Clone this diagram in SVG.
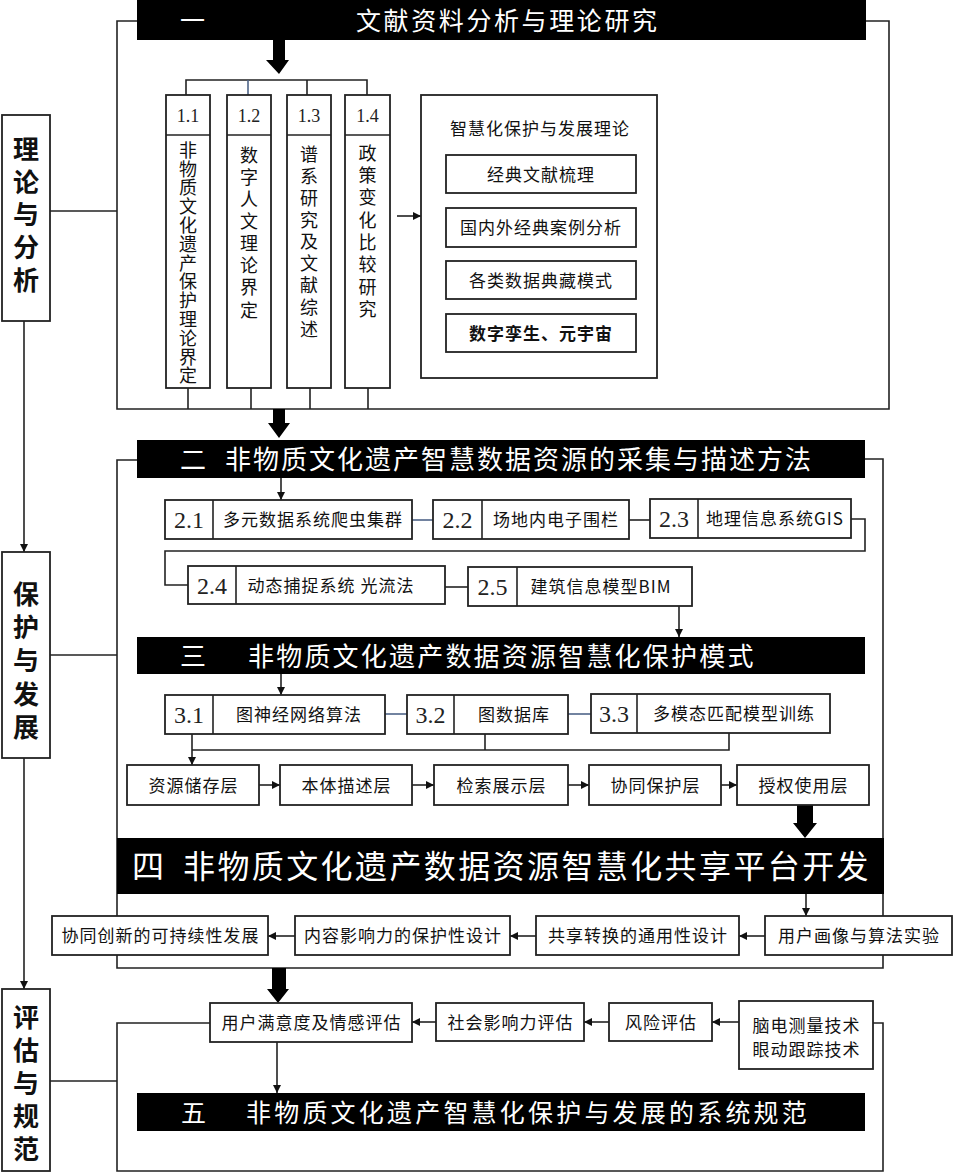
<svg xmlns="http://www.w3.org/2000/svg" width="954" height="1173" viewBox="0 0 954 1173">
<style>
.bx{fill:#fff;stroke:#222;stroke-width:1.8}
.ln{fill:none;stroke:#222;stroke-width:1.6}
.bl{fill:none;stroke:#4e6488;stroke-width:1.6}
.bar{fill:#000}
.t{font-family:"Noto Sans CJK SC","Noto Sans",sans-serif;font-size:17px;fill:#111;letter-spacing:1px}
.tc{text-anchor:middle}
.num{font-family:"Liberation Serif",serif;fill:#222;text-anchor:middle}
.n1{font-size:18px}
.n2{font-size:24px}
.v{font-family:"Noto Sans CJK SC",sans-serif;font-size:18px;fill:#111;writing-mode:vertical-rl}
.side{font-family:"Noto Sans CJK SC",sans-serif;font-size:26px;font-weight:bold;fill:#111;writing-mode:vertical-rl}
.ttl{font-family:"Noto Sans CJK SC",sans-serif;fill:#fff}
.big{fill:#000}
</style>
<defs>
<marker id="ah" viewBox="0 0 10 10" refX="10" refY="5" markerWidth="8" markerHeight="8" markerUnits="userSpaceOnUse" orient="auto"><path d="M0,0 L10,5 L0,10 z" fill="#111"/></marker>
</defs>

<g id="connectors">
<path class="ln" d="M137,21 H117 V409 H889 V21 H866"/>
<path class="ln" d="M137,460 H117 V968 H883 V459 H865"/>
<path class="ln" d="M210,1023 H117 V1171 H883 V1023 H873"/>
<path class="ln" d="M50,211 H117"/>
<path class="ln" d="M50,655 H117"/>
<path class="ln" d="M50,1081 H117"/>
<path class="ln" d="M24,321 V552" marker-end="url(#ah)"/>
<path class="ln" d="M24,758 V989" marker-end="url(#ah)"/>
<path class="ln" d="M186,95 V80 H367 V95 M307,80 V95"/>
<path class="bl" d="M248,80 V95"/>
<path class="ln" d="M188,388 V409 M251,388 V409 M310,388 V409 M368,388 V409"/>
<path class="ln" d="M397,216 H421" marker-end="url(#ah)"/>
<path class="ln" d="M540,193 V208" marker-end="url(#ah)"/>
<path class="ln" d="M540,247 V261" marker-end="url(#ah)"/>
<path class="ln" d="M540,299 V314" marker-end="url(#ah)"/>
<polygon class="big" points="273,40 285,40 285,60 289,60 279,74 266,60 273,60"/>
<polygon class="big" points="273,409 285,409 285,423 290,423 279,438 268,423 273,423"/>
<polygon class="big" points="797,805 813,805 813,823 817,823 805,838 793,823 797,823"/>
<polygon class="big" points="272,968 286,968 286,989 289,989 278,1003 267,989 272,989"/>
<path class="ln" d="M281,478 V500" marker-end="url(#ah)"/>
<path class="bl" d="M412,520 H433"/>
<path class="ln" d="M629,520 H650"/>
<path class="ln" d="M851,519 H865 V551 H165 V585 H188"/>
<path class="ln" d="M445,587 H468"/>
<path class="ln" d="M679,606 V637" marker-end="url(#ah)"/>
<path class="ln" d="M281,674 V695" marker-end="url(#ah)"/>
<path class="bl" d="M385,714 H407"/>
<path class="bl" d="M568,714 H591"/>
<path class="ln" d="M192,734 V765" marker-end="url(#ah)"/>
<path class="ln" d="M192,750 H729 V733 M485,734 V750"/>
<path class="ln" d="M259,785 H280" marker-end="url(#ah)"/>
<path class="ln" d="M412,785 H434" marker-end="url(#ah)"/>
<path class="ln" d="M568,785 H589" marker-end="url(#ah)"/>
<path class="ln" d="M721,785 H737" marker-end="url(#ah)"/>
<path class="ln" d="M806,894 V916" marker-end="url(#ah)"/>
<path class="ln" d="M765,936 H739" marker-end="url(#ah)"/>
<path class="ln" d="M536,936 H510" marker-end="url(#ah)"/>
<path class="ln" d="M295,936 H268" marker-end="url(#ah)"/>
<path class="ln" d="M739,1022 H712" marker-end="url(#ah)"/>
<path class="ln" d="M609,1022 H584" marker-end="url(#ah)"/>
<path class="ln" d="M436,1022 H412" marker-end="url(#ah)"/>
<path class="ln" d="M277,1042 V1093" marker-end="url(#ah)"/>
</g>

<g id="side1">
<rect class="bx" x="2" y="115" width="48" height="206"/>
<text class="side" x="26" y="136" letter-spacing="6.75">理论与分析</text>
</g>
<g id="side2">
<rect class="bx" x="2" y="552" width="48" height="206"/>
<text class="side" x="26" y="581" letter-spacing="7.25">保护与发展</text>
</g>
<g id="side3">
<rect class="bx" x="2" y="989" width="48" height="182"/>
<text class="side" x="26" y="1004" letter-spacing="7">评估与规范</text>
</g>

<g id="bar1">
<rect class="bar" x="137" y="0" width="729" height="40"/>
<text class="ttl" x="180" y="29.5" font-size="25">一</text>
<text class="ttl" x="356" y="29.5" font-size="25" letter-spacing="2.6">文献资料分析与理论研究</text>
</g>
<g id="bar2">
<rect class="bar" x="137" y="440" width="728" height="38"/>
<text class="ttl" x="180" y="469" font-size="26">二</text>
<text class="ttl" x="225" y="469" font-size="26" letter-spacing="2">非物质文化遗产智慧数据资源的采集与描述方法</text>
</g>
<g id="bar3">
<rect class="bar" x="137" y="637" width="728" height="37"/>
<text class="ttl" x="180" y="665.5" font-size="26">三</text>
<text class="ttl" x="248" y="665.5" font-size="26" letter-spacing="2.2">非物质文化遗产数据资源智慧化保护模式</text>
</g>
<g id="bar4">
<rect class="bar" x="117" y="838" width="767" height="56"/>
<text class="ttl" x="132" y="878" font-size="32">四</text>
<text class="ttl" x="183" y="878" font-size="32" letter-spacing="2.4">非物质文化遗产数据资源智慧化共享平台开发</text>
</g>
<g id="bar5">
<rect class="bar" x="137" y="1093" width="728" height="38"/>
<text class="ttl" x="181" y="1121.5" font-size="25">五</text>
<text class="ttl" x="246" y="1121.5" font-size="25" letter-spacing="3.2">非物质文化遗产智慧化保护与发展的系统规范</text>
</g>

<g id="n1-1">
<rect class="bx" x="166" y="95" width="44" height="293"/>
<line class="ln" x1="166" y1="135" x2="210" y2="135"/>
<text class="num n1" x="188" y="122">1.1</text>
<text class="v" x="188" y="141" letter-spacing="0.8">非物质文化遗产保护理论界定</text>
</g>
<g id="n1-2">
<rect class="bx" x="227" y="95" width="44" height="293"/>
<line class="ln" x1="227" y1="135" x2="271" y2="135"/>
<text class="num n1" x="249" y="122">1.2</text>
<text class="v" x="249" y="146" letter-spacing="4.1">数字人文理论界定</text>
</g>
<g id="n1-3">
<rect class="bx" x="287" y="95" width="44" height="293"/>
<line class="ln" x1="287" y1="135" x2="331" y2="135"/>
<text class="num n1" x="309" y="122">1.3</text>
<text class="v" x="309" y="145" letter-spacing="3.9">谱系研究及文献综述</text>
</g>
<g id="n1-4">
<rect class="bx" x="345" y="95" width="45" height="293"/>
<line class="ln" x1="345" y1="135" x2="390" y2="135"/>
<text class="num n1" x="367.5" y="122">1.4</text>
<text class="v" x="367.5" y="144" letter-spacing="4.3">政策变化比较研究</text>
</g>
<g id="n1-theory">
<rect class="bx" x="421" y="95" width="236" height="283"/>
<text class="t tc" x="540" y="135">智慧化保护与发展理论</text>
</g>
<g id="n1-a"><rect class="bx" x="446" y="155" width="190" height="38"/><text class="t tc" x="541" y="180.5">经典文献梳理</text></g>
<g id="n1-b"><rect class="bx" x="446" y="208" width="190" height="39"/><text class="t tc" x="541" y="234">国内外经典案例分析</text></g>
<g id="n1-c"><rect class="bx" x="446" y="261" width="190" height="38"/><text class="t tc" x="541" y="286.5">各类数据典藏模式</text></g>
<g id="n1-d"><rect class="bx" x="446" y="314" width="190" height="38"/><text class="t tc" x="541" y="339.5" font-weight="bold">数字孪生、元宇宙</text></g>

<g id="n2-1"><rect class="bx" x="165" y="500" width="247" height="39"/><line class="ln" x1="213" y1="500" x2="213" y2="539"/><text class="num n2" x="189" y="528">2.1</text><text class="t tc" x="313" y="526">多元数据系统爬虫集群</text></g>
<g id="n2-2"><rect class="bx" x="433" y="500" width="196" height="39"/><line class="ln" x1="482" y1="500" x2="482" y2="539"/><text class="num n2" x="457.5" y="528">2.2</text><text class="t tc" x="556" y="526">场地内电子围栏</text></g>
<g id="n2-3"><rect class="bx" x="650" y="499" width="201" height="39"/><line class="ln" x1="698" y1="499" x2="698" y2="538"/><text class="num n2" x="674" y="527">2.3</text><text class="t tc" x="775" y="525">地理信息系统GIS</text></g>
<g id="n2-4"><rect class="bx" x="188" y="566" width="257" height="38"/><line class="ln" x1="236" y1="566" x2="236" y2="604"/><text class="num n2" x="212" y="594">2.4</text><text class="t tc" x="331" y="592">动态捕捉系统 光流法</text></g>
<g id="n2-5"><rect class="bx" x="468" y="567" width="224" height="39"/><line class="ln" x1="517" y1="567" x2="517" y2="606"/><text class="num n2" x="492.5" y="595">2.5</text><text class="t tc" x="601" y="593">建筑信息模型BIM</text></g>

<g id="n3-1"><rect class="bx" x="165" y="695" width="220" height="39"/><line class="ln" x1="213" y1="695" x2="213" y2="734"/><text class="num n2" x="189" y="723">3.1</text><text class="t tc" x="299" y="721">图神经网络算法</text></g>
<g id="n3-2"><rect class="bx" x="407" y="695" width="161" height="39"/><line class="ln" x1="454" y1="695" x2="454" y2="734"/><text class="num n2" x="430.5" y="723">3.2</text><text class="t tc" x="514" y="721">图数据库</text></g>
<g id="n3-3"><rect class="bx" x="591" y="694" width="239" height="39"/><line class="ln" x1="637" y1="694" x2="637" y2="733"/><text class="num n2" x="614" y="722">3.3</text><text class="t tc" x="734" y="720">多模态匹配模型训练</text></g>
<g id="l1"><rect class="bx" x="127" y="765" width="132" height="40"/><text class="t tc" x="193.5" y="791.5">资源储存层</text></g>
<g id="l2"><rect class="bx" x="280" y="765" width="132" height="40"/><text class="t tc" x="346.5" y="791.5">本体描述层</text></g>
<g id="l3"><rect class="bx" x="434" y="765" width="134" height="40"/><text class="t tc" x="501.5" y="791.5">检索展示层</text></g>
<g id="l4"><rect class="bx" x="589" y="765" width="132" height="40"/><text class="t tc" x="655.5" y="791.5">协同保护层</text></g>
<g id="l5"><rect class="bx" x="737" y="765" width="132" height="40"/><text class="t tc" x="803.5" y="791.5">授权使用层</text></g>

<g id="n4-1"><rect class="bx" x="52" y="916" width="216" height="39"/><text class="t tc" x="160.5" y="942">协同创新的可持续性发展</text></g>
<g id="n4-2"><rect class="bx" x="295" y="916" width="215" height="39"/><text class="t tc" x="403" y="942">内容影响力的保护性设计</text></g>
<g id="n4-3"><rect class="bx" x="536" y="916" width="203" height="39"/><text class="t tc" x="638" y="942">共享转换的通用性设计</text></g>
<g id="n4-4"><rect class="bx" x="765" y="916" width="187" height="39"/><text class="t tc" x="859" y="942">用户画像与算法实验</text></g>

<g id="n5-1"><rect class="bx" x="210" y="1003" width="202" height="39"/><text class="t tc" x="311.5" y="1029">用户满意度及情感评估</text></g>
<g id="n5-2"><rect class="bx" x="436" y="1003" width="148" height="38"/><text class="t tc" x="510.5" y="1028.5">社会影响力评估</text></g>
<g id="n5-3"><rect class="bx" x="609" y="1003" width="103" height="38"/><text class="t tc" x="661" y="1028.5">风险评估</text></g>
<g id="n5-4"><rect class="bx" x="739" y="1001" width="134" height="68"/><text class="t tc" x="806.5" y="1031.5">脑电测量技术</text><text class="t tc" x="806.5" y="1055.5">眼动跟踪技术</text></g>
</svg>
